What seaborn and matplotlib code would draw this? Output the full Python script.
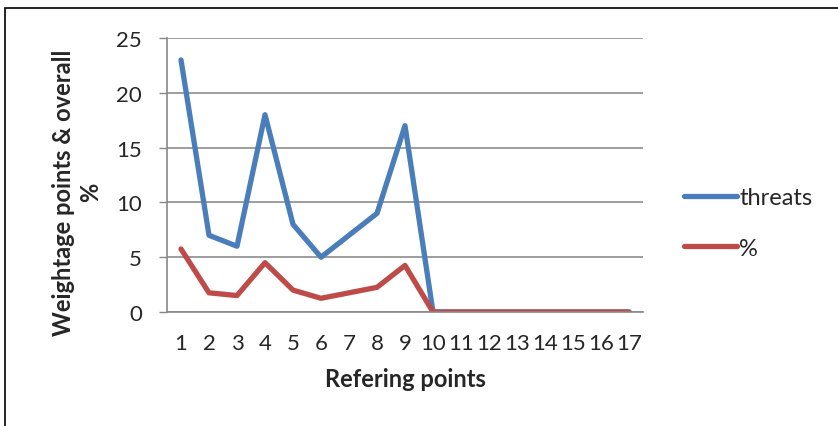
import matplotlib
matplotlib.use("Agg")
import matplotlib.pyplot as plt
import seaborn as sns
import pandas as pd
import numpy as np

points = list(range(1, 18))
threats = [23, 7, 6, 18, 8, 5, 7, 9, 17, 0, 0, 0, 0, 0, 0, 0, 0]
percent = [5.75, 1.75, 1.5, 4.5, 2, 1.25, 1.75, 2.25, 4.25, 0, 0, 0, 0, 0, 0, 0, 0]
series_names = ["threats", "%"]
colors = ["#4a7ebb", "#be4b48"]

df = pd.DataFrame({
    "point": points * 2,
    "value": threats + percent,
    "series": [series_names[0]] * len(points) + [series_names[1]] * len(points),
})

sns.set_style("white")
plt.rcParams["font.family"] = ["Lato", "DejaVu Sans"]

fig = plt.figure(figsize=(8.38, 4.27), dpi=100)
ax = fig.add_axes([167 / 838, 1 - 313 / 427, 476 / 838, 274 / 427])

sns.lineplot(data=df, x="point", y="value", hue="series", palette=colors,
             linewidth=3.8, ax=ax, legend=False, solid_capstyle="round")

ax.set_xlim(0.5, 17.5)
ax.set_ylim(0, 25)
ax.set_yticks(np.arange(0, 26, 5))
ax.set_xticks(points)
ax.set_xticks(np.arange(0.5, 18, 1), minor=True)
ax.tick_params(axis="x", which="major", length=0, labelsize=16, pad=15)
ax.tick_params(axis="x", which="minor", length=5, color="#888888", width=1, direction="out")
ax.tick_params(axis="y", length=6, color="#888888", width=1, labelsize=16, pad=12, left=True)
ax.grid(axis="y", color="#8c8c8c", linewidth=1.2)
for side in ["top", "right"]:
    ax.spines[side].set_visible(False)
for side in ["left", "bottom"]:
    ax.spines[side].set_color("#888888")
    ax.spines[side].set_linewidth(1.2)

ax.set_xlabel("Refering points", fontsize=17, fontweight="bold", labelpad=10)
ax.set_ylabel("Weightage points & overall\n%", fontsize=17, fontweight="bold",
              linespacing=1.2)
ax.yaxis.set_label_coords(-0.137, 0.44)

# legend
handles = [plt.Line2D([], [], color=c, linewidth=3.8, solid_capstyle="round") for c in colors]
fig.legend(handles, series_names, loc="center left", bbox_to_anchor=(684 / 838, 1 - 224 / 427),
           frameon=False, fontsize=17, handlelength=2.25, handletextpad=0.1, labelspacing=1.25,
           borderpad=0, borderaxespad=0)

# outer chart border
fig.patches.append(plt.Rectangle((5 / 838, -0.05), 1.1, 1 - 9 / 427 + 0.05, transform=fig.transFigure,
                                 fill=False, edgecolor="black", linewidth=1.2))

fig.savefig("out.png", dpi=100)
